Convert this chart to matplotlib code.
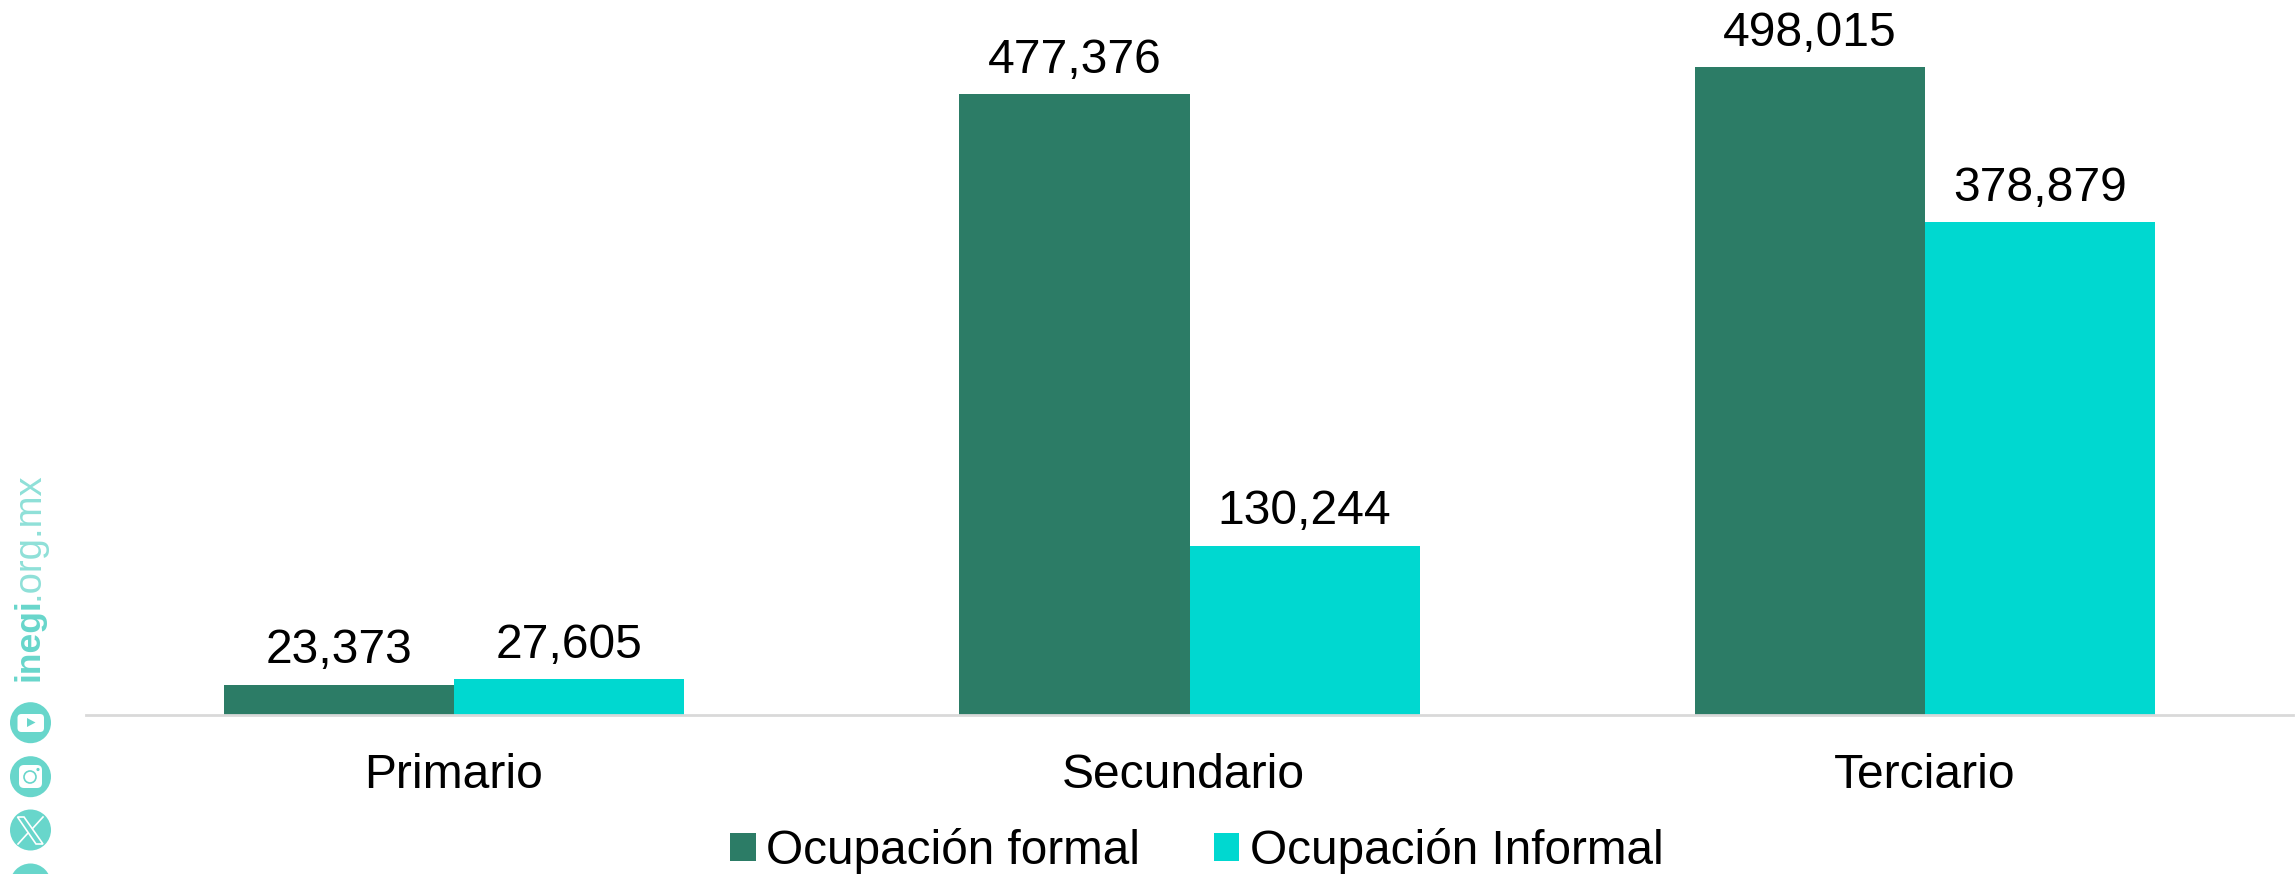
import matplotlib
matplotlib.use('Agg')
import numpy as np
from matplotlib import pyplot as plt
from matplotlib.patches import Circle, FancyBboxPatch, Polygon
from matplotlib.transforms import ScaledTranslation

categories = ['Primario', 'Secundario', 'Terciario']
formal = [23373, 477376, 498015]
informal = [27605, 130244, 378879]
series_names = ['Ocupación formal', 'Ocupación Informal']

W, H = 2295, 874
GREEN = '#2C7C66'
CYAN = '#00D8D0'
ICON = '#68D6CB'
FS = 34.6

plt.rcParams['font.family'] = ['Liberation Sans', 'DejaVu Sans']

fig = plt.figure(figsize=(W / 100, H / 100), dpi=100)

# plot area in pixels
left, right, base, top = 86, 2293, 715, 67
ax = fig.add_axes([left / W, 1 - base / H, (right - left) / W, (base - top) / H])

x = np.arange(len(categories))
bar_w = 230 / 735.5
b1 = ax.bar(x - bar_w / 2, formal, bar_w, color=GREEN, label=series_names[0])
b2 = ax.bar(x + bar_w / 2, informal, bar_w, color=CYAN, label=series_names[1])

for bars in (b1, b2):
    ax.bar_label(bars, labels=[f'{b.get_height():,.0f}' for b in bars], padding=8, fontsize=FS, color='black')

ax.set_xlim(-0.5, 2.5)
ax.set_ylim(0, 498015)
ax.set_yticks([])
ax.set_xticks(x)
ax.set_xticklabels(categories, fontsize=FS)
ax.tick_params(axis='x', length=0, pad=27)
# Secundario sits a little left of its group in the reference
lab = ax.get_xticklabels()[1]
lab.set_transform(lab.get_transform() + ScaledTranslation(-0.06, 0, fig.dpi_scale_trans))
for s in ['top', 'left', 'right']:
    ax.spines[s].set_visible(False)
ax.spines['bottom'].set_color('#D9D9D9')
ax.spines['bottom'].set_linewidth(2)
ax.patch.set_alpha(0)
for t in ax.texts:
    t.set_clip_on(False)

fig.legend(loc='center', bbox_to_anchor=(1197 / W, 1 - 851 / H), ncol=2, frameon=False,
           fontsize=34.4, handlelength=0.53, handleheight=0.53, handletextpad=0.22, columnspacing=1.55)

# side bar with website and social icons, in pixel coords
side = fig.add_axes([0, 0, 1, 1])
side.set_xlim(0, W)
side.set_ylim(H, 0)
side.axis('off')
side.patch.set_alpha(0)

side.text(39, 681, 'inegi', rotation=90, color=ICON, fontsize=25.5, fontweight='bold', ha='left', va='baseline',
          rotation_mode='anchor')
side.text(39, 600, '.org.mx', rotation=90, color='#8FE0D8', fontsize=27.5, ha='left', va='baseline',
          rotation_mode='anchor')

for cy in [722.7, 776.7, 830, 884]:
    side.add_patch(Circle((30.5, cy), 20.5, color=ICON, lw=0))

# youtube
side.add_patch(FancyBboxPatch((17.5, 714), 26.5, 18, boxstyle='round,pad=0,rounding_size=4', fc='white', ec='none'))
side.add_patch(Polygon([(27, 718), (27, 727), (35.5, 722.5)], fc=ICON, lw=0))
# instagram
side.add_patch(FancyBboxPatch((19, 765), 23, 23, boxstyle='round,pad=0,rounding_size=5', fc='white', ec='none'))
side.add_patch(Circle((30, 777), 6, fc='none', ec=ICON, lw=1.2))
side.add_patch(Circle((38, 769.5), 1.6, fc=ICON, lw=0))
# x
side.add_patch(Polygon([(17.5, 817), (24, 817), (43, 844), (36, 844)], fc='none', ec='white', lw=1.2))
side.plot([43, 33], [817, 828], color='white', lw=1.2)
side.plot([28, 18], [833, 844], color='white', lw=1.2)

fig.savefig('out.png', dpi=100)
